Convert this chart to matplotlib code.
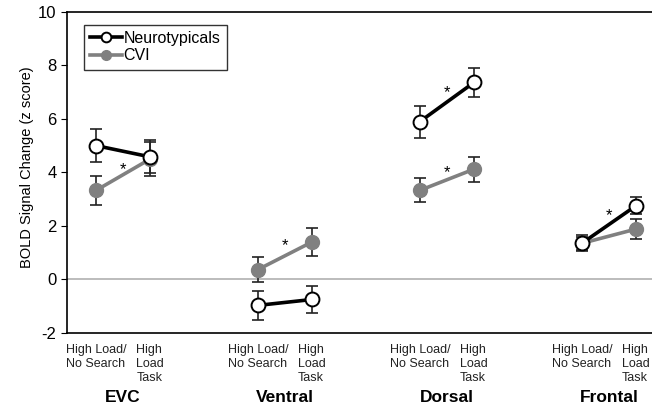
import numpy as np
import matplotlib.pyplot as plt

plt.rcParams['font.family'] = ['Liberation Sans', 'DejaVu Sans']
plt.rcParams['axes.unicode_minus'] = False

regions = ["EVC", "Ventral", "Dorsal", "Frontal"]
conditions = ["High Load/\nNo Search", "High\nLoad\nTask"]

# mean z score per region: [no search, task]
nt_mean = [[5.0, 4.58], [-0.97, -0.75], [5.9, 7.36], [1.35, 2.75]]
nt_err = [[0.63, 0.62], [0.53, 0.5], [0.6, 0.56], [0.3, 0.32]]
cvi_mean = [[3.33, 4.5], [0.37, 1.4], [3.33, 4.12], [1.35, 1.88]]
cvi_err = [[0.55, 0.65], [0.45, 0.54], [0.45, 0.47], [0.25, 0.36]]

# significance stars (region index, y value)
star_region = [0, 1, 2, 2, 3]
star_y = [4.1, 1.25, 7.0, 4.0, 2.4]

fig = plt.figure(figsize=(6.52, 4.09), dpi=100)
ax = fig.add_axes([0.1028, 0.186, 0.8972, 0.785])

ax.axhline(0, color='#b0b0b0', lw=1.2, zorder=1)

gray = '#808080'
for i in range(len(regions)):
    x = np.array([i * 3, i * 3 + 1])
    ax.errorbar(x, cvi_mean[i], yerr=cvi_err[i], fmt='none', ecolor='#222222',
                elinewidth=1.2, capsize=4, capthick=1.2, zorder=2)
    ax.errorbar(x, nt_mean[i], yerr=nt_err[i], fmt='none', ecolor='#222222',
                elinewidth=1.2, capsize=4, capthick=1.2, zorder=2)
    ax.plot(x, cvi_mean[i], color=gray, lw=2.6, marker='o', ms=10,
            mfc=gray, mec=gray, zorder=3, label='CVI' if i == 0 else None)
    ax.plot(x, nt_mean[i], color='black', lw=2.6, marker='o', ms=10,
            mfc='white', mec='black', mew=1.4, zorder=4,
            label='Neurotypicals' if i == 0 else None)

for r, y in zip(star_region, star_y):
    ax.text(r * 3 + 0.5, y, '*', ha='center', va='center', fontsize=12)

ax.set_xlim(-0.54, 10.3)
ax.set_ylim(-2, 10)
ax.set_yticks(range(-2, 11, 2))
ax.tick_params(axis='y', labelsize=12, direction='out', length=4)

ticks = []
labels = []
for i in range(len(regions)):
    ticks += [i * 3, i * 3 + 1]
    labels += conditions
ax.set_xticks(ticks)
ax.set_xticklabels(labels, fontsize=9, color='#222222', va='top')
for lab in ax.get_xticklabels():
    lab.set_multialignment('left')
ax.tick_params(axis='x', length=0, pad=8)

for i, name in enumerate(regions):
    ax.text(i * 3 + 0.5, -0.2, name, transform=ax.get_xaxis_transform(),
            ha='center', va='center', fontsize=12.5, fontweight='bold')

ax.set_ylabel('BOLD Signal Change (z score)', fontsize=10.5)
ax.yaxis.set_label_coords(-0.056, 0.517)
ax.spines['right'].set_visible(False)
for s in ['top', 'left', 'bottom']:
    ax.spines[s].set_linewidth(1.2)

handles, labs = ax.get_legend_handles_labels()
leg = ax.legend(handles[::-1], labs[::-1], loc='upper left', fontsize=11.5,
                frameon=True, fancybox=False, edgecolor='black',
                handlelength=2.0, handletextpad=0.1, borderpad=0.4,
                labelspacing=0.15, bbox_to_anchor=(0.015, 0.985))
leg.get_frame().set_linewidth(1.0)
for h in leg.legend_handles:
    h.set_markersize(7)

fig.savefig('out.png', dpi=100)
